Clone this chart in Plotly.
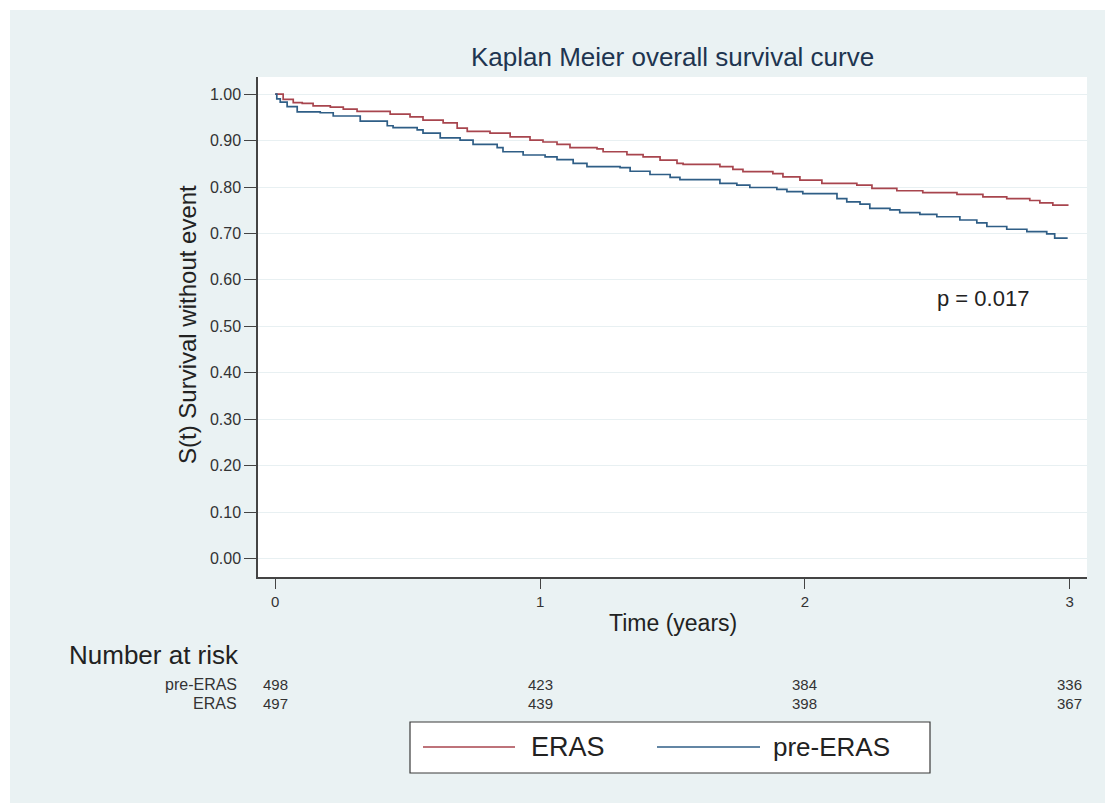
import plotly.graph_objects as go

# ---- data ----
eras_time = [0.0, 0.030, 0.068, 0.102, 0.143, 0.208, 0.257, 0.309, 0.434, 0.509, 0.558,
             0.634, 0.687, 0.725, 0.811, 0.887, 0.962, 1.011, 1.064, 1.113, 1.215, 1.238,
             1.328, 1.389, 1.453, 1.517, 1.540, 1.679, 1.728, 1.766, 1.879, 1.917, 1.981,
             2.064, 2.196, 2.253, 2.347, 2.445, 2.574, 2.672, 2.762, 2.849, 2.887, 2.936, 2.992]
eras_surv = [1.000, 0.989, 0.982, 0.980, 0.975, 0.972, 0.968, 0.963, 0.957, 0.951, 0.944,
             0.938, 0.927, 0.920, 0.916, 0.908, 0.901, 0.897, 0.892, 0.885, 0.882, 0.876,
             0.870, 0.865, 0.858, 0.851, 0.849, 0.844, 0.838, 0.833, 0.829, 0.822, 0.815,
             0.808, 0.804, 0.797, 0.792, 0.788, 0.784, 0.779, 0.775, 0.771, 0.766, 0.761, 0.759]

pre_time = [0.0, 0.006, 0.019, 0.045, 0.083, 0.170, 0.219, 0.321, 0.423, 0.445, 0.536, 0.558,
            0.623, 0.698, 0.747, 0.838, 0.860, 0.936, 1.019, 1.064, 1.125, 1.177, 1.302,
            1.340, 1.415, 1.491, 1.528, 1.679, 1.743, 1.792, 1.894, 1.932, 1.992, 2.121,
            2.158, 2.208, 2.245, 2.321, 2.358, 2.434, 2.498, 2.585, 2.649, 2.687, 2.762,
            2.838, 2.913, 2.943, 2.992]
pre_surv = [1.000, 0.990, 0.983, 0.973, 0.962, 0.960, 0.953, 0.942, 0.932, 0.928, 0.923, 0.916,
            0.906, 0.901, 0.892, 0.885, 0.876, 0.869, 0.865, 0.859, 0.851, 0.844, 0.842,
            0.834, 0.827, 0.821, 0.816, 0.808, 0.804, 0.799, 0.795, 0.790, 0.786, 0.775,
            0.768, 0.763, 0.754, 0.751, 0.745, 0.741, 0.736, 0.729, 0.723, 0.715, 0.709,
            0.704, 0.699, 0.690, 0.690]

risk_times = [0, 1, 2, 3]
pre_eras_risk = [498, 423, 384, 336]
eras_risk = [497, 439, 398, 367]

y_ticks = [i / 10 for i in range(11)]
x_ticks = [0, 1, 2, 3]
p_text = "p = 0.017"

RED = "#a8454e"
BLUE = "#2f5e86"
BG = "#eaf2f3"
FONT = "Liberation Sans, Arial, sans-serif"

fig = go.Figure()
fig.add_trace(go.Scatter(x=eras_time, y=eras_surv, mode="lines", line=dict(shape="hv", color=RED, width=1.7),
                         name="ERAS", showlegend=False))
fig.add_trace(go.Scatter(x=pre_time, y=pre_surv, mode="lines", line=dict(shape="hv", color=BLUE, width=1.7),
                         name="pre-ERAS", showlegend=False))

W, H = 1105, 808
L, R, T, B = 258, 18, 77, 231
pw, ph = W - L - R, H - T - B


def px(x):
    return (x - L) / pw


def py(y):
    return (H - B - y) / ph


shapes = []
# white outer strips
for x0, y0, x1, y1 in [(0, 0, W, 10), (0, 0, 10, H), (0, 803, W, H)]:
    shapes.append(dict(type="rect", xref="paper", yref="paper", x0=px(x0), x1=px(x1), y0=py(y0), y1=py(y1),
                       fillcolor="white", line=dict(width=0), layer="below"))
# legend box
shapes.append(dict(type="rect", xref="paper", yref="paper", x0=px(410), x1=px(930), y0=py(722), y1=py(773),
                   fillcolor="white", line=dict(color="#3a3a3a", width=1.2)))
shapes.append(dict(type="line", xref="paper", yref="paper", x0=px(423), x1=px(515), y0=py(747), y1=py(747),
                   line=dict(color=RED, width=1.4)))
shapes.append(dict(type="line", xref="paper", yref="paper", x0=px(657), x1=px(760), y0=py(747), y1=py(747),
                   line=dict(color=BLUE, width=1.4)))

ann = []
ann.append(dict(text="Kaplan Meier overall survival curve", xref="paper", yref="paper", x=0.5, y=py(57),
                xanchor="center", yanchor="middle", showarrow=False, font=dict(size=26, color="#1e3550")))
ann.append(dict(text="S(t) Survival without event", xref="paper", yref="paper", x=px(187), y=0.504,
                textangle=-90, xanchor="center", yanchor="middle", showarrow=False,
                font=dict(size=24, color="#222")))
ann.append(dict(text="Time (years)", xref="paper", yref="paper", x=0.5, y=py(623),
                xanchor="center", yanchor="middle", showarrow=False, font=dict(size=23, color="#222")))
ann.append(dict(text=p_text, xref="x", yref="y", x=2.49, y=0.559, xanchor="left", yanchor="middle",
                showarrow=False, font=dict(size=22, color="#222")))
ann.append(dict(text="Number at risk", xref="paper", yref="paper", x=px(67), y=py(655),
                xanchor="left", yanchor="middle", showarrow=False, font=dict(size=26, color="#222")))
for label, vals, yy in [("pre-ERAS", pre_eras_risk, 684), ("ERAS", eras_risk, 703)]:
    ann.append(dict(text=label, xref="paper", yref="paper", x=px(239), y=py(yy), xanchor="right",
                    yanchor="middle", showarrow=False, font=dict(size=16, color="#333")))
    for t, v in zip(risk_times, vals):
        ann.append(dict(text=str(v), xref="x", yref="paper", x=t, y=py(yy), xanchor="center",
                        yanchor="middle", showarrow=False, font=dict(size=15, color="#333")))
ann.append(dict(text="ERAS", xref="paper", yref="paper", x=px(529), y=py(747), xanchor="left",
                yanchor="middle", showarrow=False, font=dict(size=27, color="#222")))
ann.append(dict(text="pre-ERAS", xref="paper", yref="paper", x=px(771), y=py(747), xanchor="left",
                yanchor="middle", showarrow=False, font=dict(size=26, color="#222")))

fig.update_layout(
    width=W, height=H, margin=dict(l=L, r=R, t=T, b=B, pad=0),
    paper_bgcolor=BG, plot_bgcolor="white",
    font=dict(family=FONT, color="#222"),
    shapes=shapes, annotations=ann, showlegend=False,
)
fig.update_xaxes(range=[-0.065, 3.065], tickvals=x_ticks, ticks="outside", ticklen=10, tickwidth=1.3,
                 tickcolor="#444", showline=True, linecolor="#444", linewidth=1.5, showgrid=False,
                 zeroline=False, tickfont=dict(size=15, color="#333"))
fig.update_yaxes(range=[-0.04, 1.037], tickvals=y_ticks, tickformat=".2f", ticks="outside", ticklen=12,
                 tickwidth=1.3, tickcolor="#444", showline=True, linecolor="#444", linewidth=1.5,
                 showgrid=True, gridcolor="#e8f0f2", gridwidth=1, zeroline=False,
                 tickfont=dict(size=16, color="#333"))

fig.write_html("out.html")
